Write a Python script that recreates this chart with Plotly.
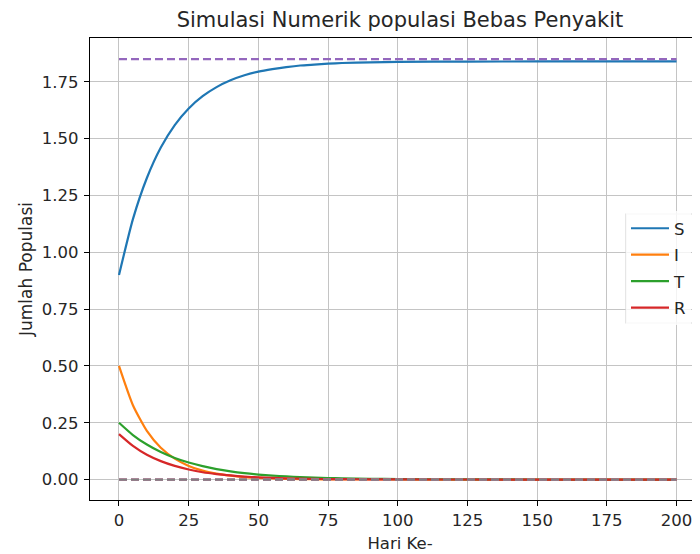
import plotly.graph_objects as go

# ---- data ----
hari = [0, 5, 10, 15, 20, 25, 30, 35, 40, 45, 50, 55, 60, 65, 70, 75, 80, 90, 100, 125, 150, 175, 200]
S = [0.900, 1.146, 1.327, 1.461, 1.560, 1.633, 1.687, 1.727, 1.757, 1.779, 1.795, 1.806, 1.815,
     1.822, 1.826, 1.830, 1.833, 1.836, 1.838, 1.839, 1.840, 1.840, 1.840]
I = [0.500, 0.327, 0.214, 0.140, 0.092, 0.060, 0.039, 0.026, 0.017, 0.011, 0.0072, 0.0047, 0.0031,
     0.0020, 0.0013, 0.0009, 0.0006, 0.0002, 0.0001, 0.0, 0.0, 0.0, 0.0]
T = [0.250, 0.196, 0.154, 0.121, 0.095, 0.075, 0.059, 0.046, 0.036, 0.028, 0.022, 0.0175, 0.0138,
     0.0108, 0.0085, 0.0067, 0.0052, 0.0032, 0.0020, 0.0006, 0.0002, 0.0, 0.0]
R = [0.200, 0.148, 0.109, 0.081, 0.060, 0.044, 0.032, 0.024, 0.018, 0.013, 0.0097, 0.0071, 0.0053,
     0.0039, 0.0029, 0.0021, 0.0016, 0.0009, 0.0005, 0.0001, 0.0, 0.0, 0.0]

eq_x = [0, 200]
S_eq = [1.85, 1.85]
I_eq = [0.0, 0.0]
T_eq = [0.0, 0.0]
R_eq = [0.0, 0.0]

x_ticks = [0, 25, 50, 75, 100, 125, 150, 175, 200]
y_ticks = [0.00, 0.25, 0.50, 0.75, 1.00, 1.25, 1.50, 1.75]

series = [("S", S, "#1f77b4"), ("I", I, "#ff7f0e"), ("T", T, "#2ca02c"), ("R", R, "#d62728")]
eq_series = [(S_eq, "#9467bd"), (I_eq, "#8c564b"), (T_eq, "#e377c2"), (R_eq, "#7f7f7f")]

fig = go.Figure()
for name, vals, col in series:
    fig.add_trace(go.Scatter(x=hari, y=vals, mode="lines", name=name, legendgroup=name,
                             line=dict(color=col, width=2.2, shape="spline", smoothing=0.6)))
for vals, col in eq_series:
    fig.add_trace(go.Scatter(x=eq_x, y=vals, mode="lines", showlegend=False,
                             line=dict(color=col, width=2.2, dash="8px,4px")))

# the page body adds an 8px offset; figure coordinates below compensate for it
W, H = 702, 554
L, T_, B = 82, 30, 62
font = "DejaVu Sans, Arial, sans-serif"
fig.update_layout(
    width=W, height=H,
    margin=dict(l=L, r=0, t=T_, b=B),
    paper_bgcolor="white", plot_bgcolor="white",
    font=dict(family=font, size=16.5, color="#262626"),
    title=dict(text="Simulasi Numerik populasi Bebas Penyakit", x=392 / W, xref="container",
               xanchor="center", y=1 - 12 / H, yref="container", yanchor="middle",
               font=dict(size=21, family=font, color="#262626")),
    xaxis=dict(range=[-10.4, 212.0], tickvals=x_ticks, ticktext=[str(v) for v in x_ticks],
               showgrid=True, gridcolor="#c4c4c4", gridwidth=1.2, zeroline=False,
               showline=True, linecolor="black", linewidth=1.2, mirror=True,
               ticks="outside", ticklen=5, tickcolor="black", automargin=False,
               title=dict(text="Hari Ke-", standoff=8, font=dict(size=16.5))),
    yaxis=dict(range=[-0.090, 1.943], tickvals=y_ticks, ticktext=["%.2f" % v for v in y_ticks],
               showgrid=True, gridcolor="#c4c4c4", gridwidth=1.2, zeroline=False,
               showline=True, linecolor="black", linewidth=1.2,
               ticks="outside", ticklen=5, tickcolor="black", automargin=False,
               ticklabelstandoff=2,
               title=dict(text="Jumlah Populasi", standoff=4, font=dict(size=17))),
    legend=dict(x=(618 - L) / (W - L), xanchor="left", y=(492 - 203) / 462, yanchor="top",
                bgcolor="rgba(255,255,255,0.8)", borderwidth=0, tracegroupgap=2,
                itemwidth=38,
                font=dict(size=16.5, family=font, color="#262626")),
    showlegend=True,
)
# legend frame (extends past the right edge like in the reference)
fig.add_shape(type="rect", xref="paper", yref="paper",
              x0=(618 - L) / (W - L), x1=1.05, y0=(492 - 315) / 462, y1=(492 - 206) / 462,
              line=dict(color="#d6d6d6", width=1.2), layer="above")

fig.write_html("out.html")
